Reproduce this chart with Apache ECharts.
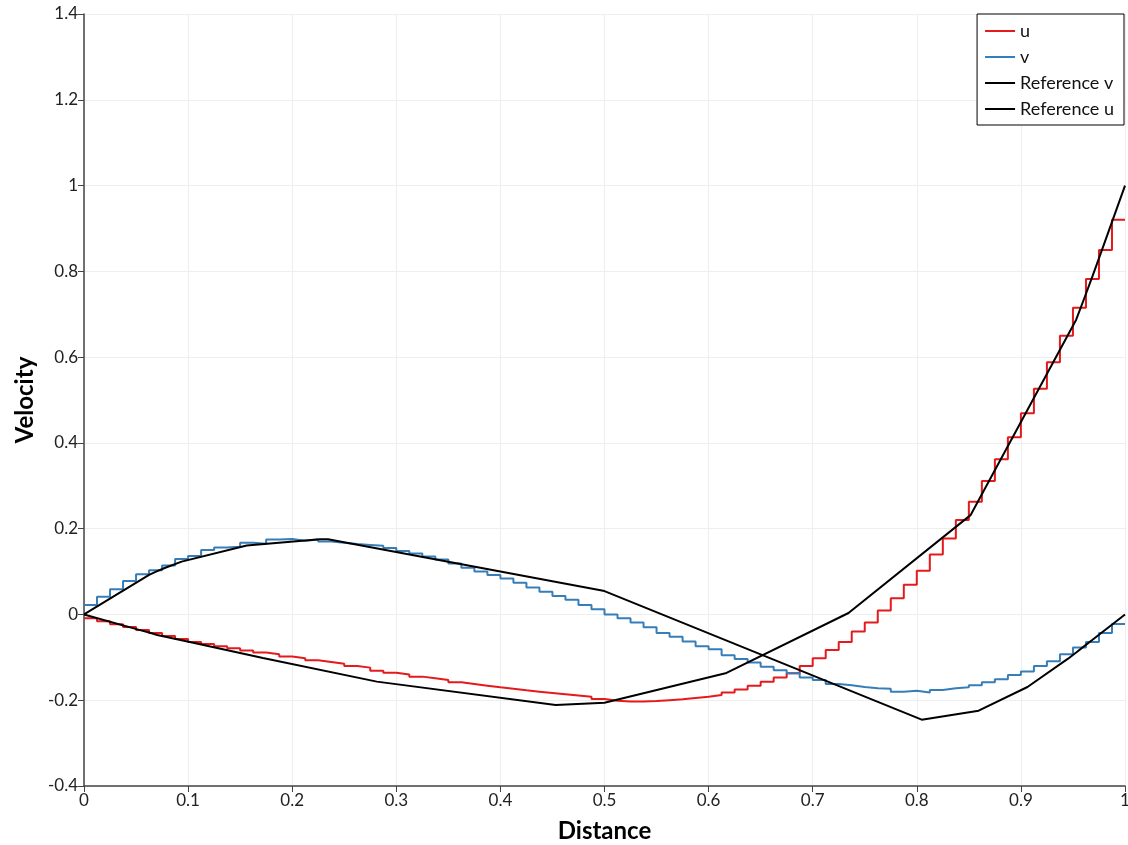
<!DOCTYPE html>
<html>
<head>
<meta charset="utf-8">
<script src="https://cdn.jsdelivr.net/npm/echarts@6/dist/echarts.min.js"></script>
<style>
html,body{margin:0;padding:0;background:#fff;}
#chart{width:1128px;height:845px;}
</style>
</head>
<body>
<div id="chart"></div>
<script>
// Simulated samples: one value per cell, 80 equal cells over [0, 1]
const cellCount = 80;
const uSim = [
  -0.009,-0.016,-0.023,-0.029,-0.036,-0.043,-0.050,-0.057,-0.064,-0.069,
  -0.074,-0.079,-0.084,-0.089,-0.093,-0.098,-0.102,-0.107,-0.111,-0.115,
  -0.120,-0.124,-0.131,-0.136,-0.140,-0.145,-0.149,-0.153,-0.158,-0.162,
  -0.166,-0.170,-0.173,-0.177,-0.180,-0.183,-0.186,-0.189,-0.192,-0.197,
  -0.201,-0.203,-0.203,-0.202,-0.200,-0.198,-0.195,-0.192,-0.188,-0.182,
  -0.175,-0.166,-0.157,-0.147,-0.137,-0.120,-0.102,-0.083,-0.064,-0.040,
  -0.019,0.009,0.038,0.069,0.102,0.140,0.177,0.220,0.263,0.311,
  0.362,0.413,0.469,0.526,0.588,0.650,0.715,0.782,0.850,0.920
];
const vSim = [
  0.022,0.041,0.059,0.078,0.094,0.103,0.114,0.129,0.136,0.150,
  0.156,0.158,0.167,0.165,0.175,0.176,0.172,0.175,0.170,0.167,
  0.164,0.162,0.160,0.155,0.148,0.142,0.135,0.128,0.119,0.109,
  0.100,0.092,0.084,0.074,0.063,0.053,0.043,0.034,0.022,0.012,
  0.000,-0.009,-0.019,-0.030,-0.043,-0.052,-0.063,-0.074,-0.081,-0.095,
  -0.104,-0.112,-0.122,-0.130,-0.137,-0.147,-0.153,-0.162,-0.165,-0.169,
  -0.172,-0.173,-0.180,-0.178,-0.182,-0.176,-0.172,-0.170,-0.165,-0.158,
  -0.151,-0.141,-0.133,-0.120,-0.109,-0.093,-0.077,-0.064,-0.043,-0.022
];
// Reference profiles
const refVX = [0,0.0625,0.0703,0.0781,0.0938,0.1563,0.2266,0.2344,0.5,0.8047,0.8594,0.9063,0.9453,0.9531,0.9609,0.9688,1.0];
const refV  = [0,0.09233,0.10091,0.10890,0.12317,0.16077,0.17507,0.17527,0.05454,-0.24533,-0.22445,-0.16914,-0.10313,-0.08864,-0.07391,-0.05906,0];
const refUX = [0,0.0547,0.0625,0.0703,0.1016,0.1719,0.2813,0.4531,0.5,0.6172,0.7344,0.8516,0.9531,0.9609,0.9688,0.9766,1.0];
const refU  = [0,-0.03717,-0.04192,-0.04775,-0.06434,-0.10150,-0.15662,-0.21090,-0.20581,-0.13641,0.00332,0.23151,0.68717,0.73722,0.78871,0.84123,1.0];

function stepData(vals){
  const d = vals.map((v,i)=>[i/cellCount, v]);
  d.push([1, vals[vals.length-1]]);
  return d;
}
function pairData(xs, ys){ return xs.map((x,i)=>[x, ys[i]]); }

const FONT = 'Lato, "Noto Sans", sans-serif';
const chart = echarts.init(document.getElementById('chart'), null, {renderer:'canvas'});
chart.setOption({
  animation:false,
  backgroundColor:'#fff',
  textStyle:{fontFamily:FONT},
  grid:{left:84, right:3, top:14, bottom:59, containLabel:false, outerBoundsMode:'none'},
  legend:{
    orient:'vertical', right:4, top:14,
    backgroundColor:'#fff', borderColor:'#000', borderWidth:1, borderRadius:0,
    padding:[8,10,7,8], itemGap:8, itemWidth:30, itemHeight:2, icon:'rect',
    textStyle:{fontSize:18, color:'#111', fontFamily:FONT, lineHeight:18},
    data:[
      {name:'u', itemStyle:{color:'#e41a1c'}},
      {name:'v', itemStyle:{color:'#377eb8'}},
      {name:'Reference v', itemStyle:{color:'#000'}},
      {name:'Reference u', itemStyle:{color:'#000'}}
    ]
  },
  xAxis:{
    type:'value', min:0, max:1, interval:0.1,
    name:'Distance', nameLocation:'middle', nameGap:33,
    nameTextStyle:{fontSize:24, fontWeight:'bold', color:'#000', fontFamily:FONT},
    axisLine:{show:true, onZero:false, lineStyle:{color:'#444', width:1.5}},
    axisTick:{show:true, length:6, lineStyle:{color:'#444'}},
    axisLabel:{fontSize:17, color:'#222', margin:6, fontFamily:FONT},
    splitLine:{show:true, lineStyle:{color:'#eeeeee', width:1}}
  },
  yAxis:{
    type:'value', min:-0.4, max:1.4, interval:0.2,
    name:'Velocity', nameLocation:'middle', nameGap:47,
    nameTextStyle:{fontSize:24, fontWeight:'bold', color:'#000', fontFamily:FONT},
    axisLine:{show:true, onZero:false, lineStyle:{color:'#444', width:1.5}},
    axisTick:{show:true, length:6, lineStyle:{color:'#444'}},
    axisLabel:{fontSize:17, color:'#222', margin:6, fontFamily:FONT},
    splitLine:{show:true, lineStyle:{color:'#eeeeee', width:1}}
  },
  series:[
    {name:'u', type:'line', step:'end', symbol:'none', data:stepData(uSim),
     lineStyle:{color:'#e41a1c', width:2}, itemStyle:{color:'#e41a1c'}},
    {name:'v', type:'line', step:'end', symbol:'none', data:stepData(vSim),
     lineStyle:{color:'#377eb8', width:2}, itemStyle:{color:'#377eb8'}},
    {name:'Reference v', type:'line', symbol:'none', data:pairData(refVX, refV),
     lineStyle:{color:'#000', width:2}, itemStyle:{color:'#000'}},
    {name:'Reference u', type:'line', symbol:'none', data:pairData(refUX, refU),
     lineStyle:{color:'#000', width:2}, itemStyle:{color:'#000'}}
  ]
});
</script>
</body>
</html>
